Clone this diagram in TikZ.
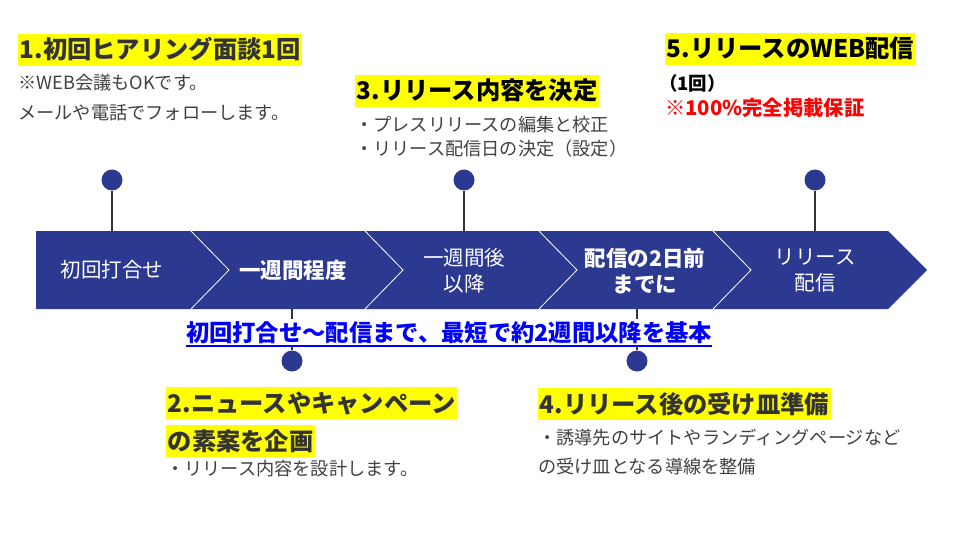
\documentclass[tikz,border=0pt]{standalone}
\usepackage{fontspec}
\setmainfont{Noto Sans CJK JP}
\definecolor{navy}{HTML}{2B3990}
\definecolor{hl}{HTML}{FFFF00}
\definecolor{headgray}{HTML}{333333}
\definecolor{bodygray}{HTML}{404040}
\definecolor{linkblue}{HTML}{0000FF}
\definecolor{alertred}{HTML}{FF0000}
\tikzset{
  dot/.style={circle, fill=navy, minimum size=21pt, inner sep=0pt},
  stem/.style={draw=headgray, line width=1.1pt},
  head/.style={anchor=west, fill=hl, inner xsep=1.5pt, inner ysep=4pt, text=headgray,
    font=\fontsize{24.3}{28}\selectfont\bfseries, text height=21pt, text depth=3pt},
  body/.style={anchor=west, inner sep=0pt, text=bodygray, font=\fontsize{18.2}{20}\selectfont},
  bandtxt/.style={align=center, text=white, inner sep=0pt, font=\fontsize{20.5}{26}\selectfont},
  bandbold/.style={bandtxt, font=\fontsize{21.5}{26}\selectfont\bfseries},
  sep/.style={draw=white, line width=0.8pt}
}
\begin{document}
\begin{tikzpicture}[x=1pt,y=-1pt]
\useasboundingbox (0,0) rectangle (960,540);
% band
\fill[navy] (36,231) -- (888,231) -- (927,270) -- (888,309) -- (36,309) -- cycle;
\foreach \x in {191,365,539,713}
  \draw[sep] (\x,231) -- ({\x+38},270) -- (\x,309);
% band labels
\node[bandtxt]  (s1) at (112,270) {初回打合せ};
\node[bandbold] (s2) at (293,270) {一週間程度};
\node[bandtxt]  (s3) at (464,271) {一週間後\\以降};
\node[bandbold] (s4) at (645,271) {配信の2日前\\までに};
\node[bandtxt]  (s5) at (815,271) {リリース\\配信};
% stems and dots
\coordinate (b1) at (112,231);
\coordinate (b3) at (464,231);
\coordinate (b5) at (815,231);
\coordinate (b2) at (292,309);
\coordinate (b4) at (637,309);
\node[dot] (d1) at (112,180) {};
\node[dot] (d3) at (464,180) {};
\node[dot] (d5) at (815,180) {};
\node[dot] (d2) at (292,361) {};
\node[dot] (d4) at (637,361) {};
\draw[stem] (d1) -- (b1);
\draw[stem] (d3) -- (b3);
\draw[stem] (d5) -- (b5);
\draw[stem] (d2) -- (b2);
\draw[stem] (d4) -- (b4);
% note
\node[fill=white, inner xsep=1pt, inner ysep=3pt, text=linkblue,
  font=\fontsize{23.3}{26}\selectfont\bfseries] (note) at (449,333)
  {初回打合せ〜配信まで、最短で約2週間以降を基本};
\draw[linkblue, line width=1.8pt] ([xshift=1pt,yshift=1pt]note.south west) -- ([xshift=-1pt,yshift=1pt]note.south east);
% step 1
\node[head] (h1) at (18,50) {1.初回ヒアリング面談1回};
\node[body] (t1a) at (18,83) {※WEB会議もOKです。};
\node[body] (t1b) at (18,113) {メールや電話でフォローします。};
% step 3
\node[head, text=black] (h3) at (355,91) {3.リリース内容を決定};
\node[body] (t3a) at (355,125) {・プレスリリースの編集と校正};
\node[body] (t3b) at (355,149) {・リリース配信日の決定（設定）};
% step 5
\node[head, text=black] (h5) at (665,49) {5.リリースのWEB配信};
\node[body, text=black, font=\fontsize{18.5}{20}\selectfont\bfseries] (t5a) at (659,83) {（1回）};
\node[body, text=alertred, font=\fontsize{20.3}{22}\selectfont\bfseries] (t5b) at (665,108) {※100\%完全掲載保証};
% step 2
\node[head] (h2a) at (166,403) {2.ニュースやキャンペーン};
\node[head] (h2b) at (166,441) {の素案を企画};
\node[body] (t2) at (166,469) {・リリース内容を設計します。};
% step 4
\node[head] (h4) at (538,404) {4.リリース後の受け皿準備};
\node[body] (t4a) at (538,438) {・誘導先のサイトやランディングページなど};
\node[body] (t4b) at (538,467) {の受け皿となる導線を整備};
\end{tikzpicture}
\end{document}
